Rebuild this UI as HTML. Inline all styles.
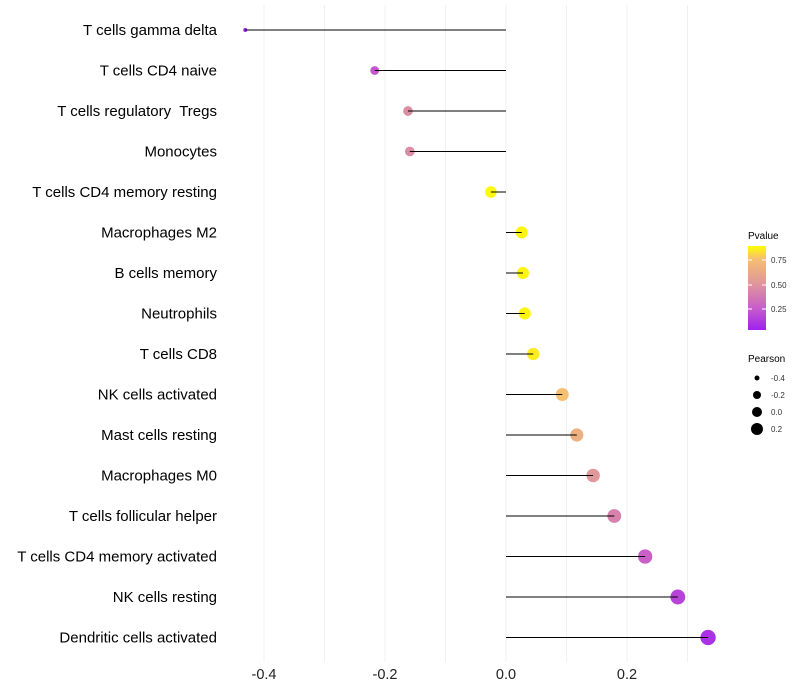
<!DOCTYPE html>
<html><head><meta charset="utf-8"><style>
body{margin:0;background:#fff;}
svg{display:block;font-family:"Liberation Sans",sans-serif;}
text{white-space:pre;}
</style></head><body>
<svg id="chart" width="800" height="700">
<g id="grid"></g>
<g id="marks"></g>
<g id="ylabels"></g>
<g id="xlabels"></g>
<g>
<defs><linearGradient id="pg" x1="0" y1="1" x2="0" y2="0">
<stop offset="0" stop-color="#a020f0"/><stop offset="0.27" stop-color="#c860c8"/>
<stop offset="0.56" stop-color="#e0989a"/><stop offset="0.85" stop-color="#f5c070"/>
<stop offset="1" stop-color="#ffff00"/></linearGradient></defs>
<text x="748" y="239" font-size="10">Pvalue</text>
<rect x="748" y="246" width="18" height="84" fill="url(#pg)"/>
<line x1="748" y1="260" x2="752" y2="260" stroke="#fff"/><line x1="762" y1="260" x2="766" y2="260" stroke="#fff"/>
<line x1="748" y1="285" x2="752" y2="285" stroke="#fff"/><line x1="762" y1="285" x2="766" y2="285" stroke="#fff"/>
<line x1="748" y1="309" x2="752" y2="309" stroke="#fff"/><line x1="762" y1="309" x2="766" y2="309" stroke="#fff"/>
<text x="771" y="263" font-size="8" fill="#333">0.75</text>
<text x="771" y="288" font-size="8" fill="#333">0.50</text>
<text x="771" y="312" font-size="8" fill="#333">0.25</text>
</g>
<g>
<text x="748" y="362" font-size="10">Pearson</text>
<circle cx="757" cy="378" r="2.5" fill="#000"/><text x="771" y="381" font-size="8" fill="#333">-0.4</text>
<circle cx="757" cy="395" r="4" fill="#000"/><text x="771" y="398" font-size="8" fill="#333">-0.2</text>
<circle cx="757" cy="412" r="5" fill="#000"/><text x="771" y="415" font-size="8" fill="#333">0.0</text>
<circle cx="757" cy="429" r="6" fill="#000"/><text x="771" y="432" font-size="8" fill="#333">0.2</text>
</g>
</svg>
<script>
const categories=["T cells gamma delta","T cells CD4 naive","T cells regulatory  Tregs","Monocytes","T cells CD4 memory resting","Macrophages M2","B cells memory","Neutrophils","T cells CD8","NK cells activated","Mast cells resting","Macrophages M0","T cells follicular helper","T cells CD4 memory activated","NK cells resting","Dendritic cells activated"];
const pearson=[-0.431,-0.217,-0.162,-0.159,-0.025,0.026,0.028,0.031,0.045,0.093,0.117,0.144,0.179,0.230,0.284,0.334];
const pvalue=[0.02,0.22,0.45,0.45,0.87,0.86,0.86,0.86,0.84,0.75,0.65,0.5,0.4,0.25,0.15,0.08];
const xTicks=[-0.4,-0.2,0.0,0.2];
const xTickLabels=["-0.4","-0.2","0.0","0.2"];
const minorTicks=[-0.3,-0.1,0.1,0.3];
const NS="http://www.w3.org/2000/svg";
const xs=v=>506+v*605;
const ys=i=>30+i*40.5;
const rs=v=>Math.sqrt(Math.max(2,4+(v+0.43)*72));
const stops=[[0.02,[160,32,240]],[0.25,[200,96,200]],[0.5,[224,152,154]],[0.75,[245,192,112]],[0.88,[255,255,0]]];
function col(p){p=Math.max(0.02,Math.min(0.88,p));for(let k=0;k<stops.length-1;k++){const[a,ca]=stops[k],[b,cb]=stops[k+1];if(p<=b){const t=(p-a)/(b-a);return "rgb("+ca.map((c,j)=>Math.round(c+(cb[j]-c)*t)).join(",")+")";}}return "rgb(255,255,0)";}
function mk(t,a,parent){const e=document.createElementNS(NS,t);for(const k in a)e.setAttribute(k,a[k]);document.getElementById(parent).appendChild(e);return e;}
[...xTicks,...minorTicks].forEach(v=>{const l=mk("line",{x1:xs(v),x2:xs(v),y1:5,y2:662,stroke:"#f0f0f0","stroke-width":1},"grid");

});
categories.forEach((c,i)=>{
const p=mk("circle",{cx:xs(pearson[i]),cy:ys(i),r:rs(pearson[i]),fill:col(pvalue[i])},"marks");


const s=mk("line",{x1:xs(0),x2:xs(pearson[i]),y1:ys(i),y2:ys(i),stroke:"#000","stroke-width":1},"marks");


const t=mk("text",{x:217,y:ys(i)+5,"text-anchor":"end","font-size":15,fill:"#000"},"ylabels");
t.textContent=c;


});
xTicks.forEach((v,i)=>{const t=mk("text",{x:xs(v),y:679,"text-anchor":"middle","font-size":14.5,fill:"#222"},"xlabels");
t.textContent=xTickLabels[i];

});
</script>
</body></html>
